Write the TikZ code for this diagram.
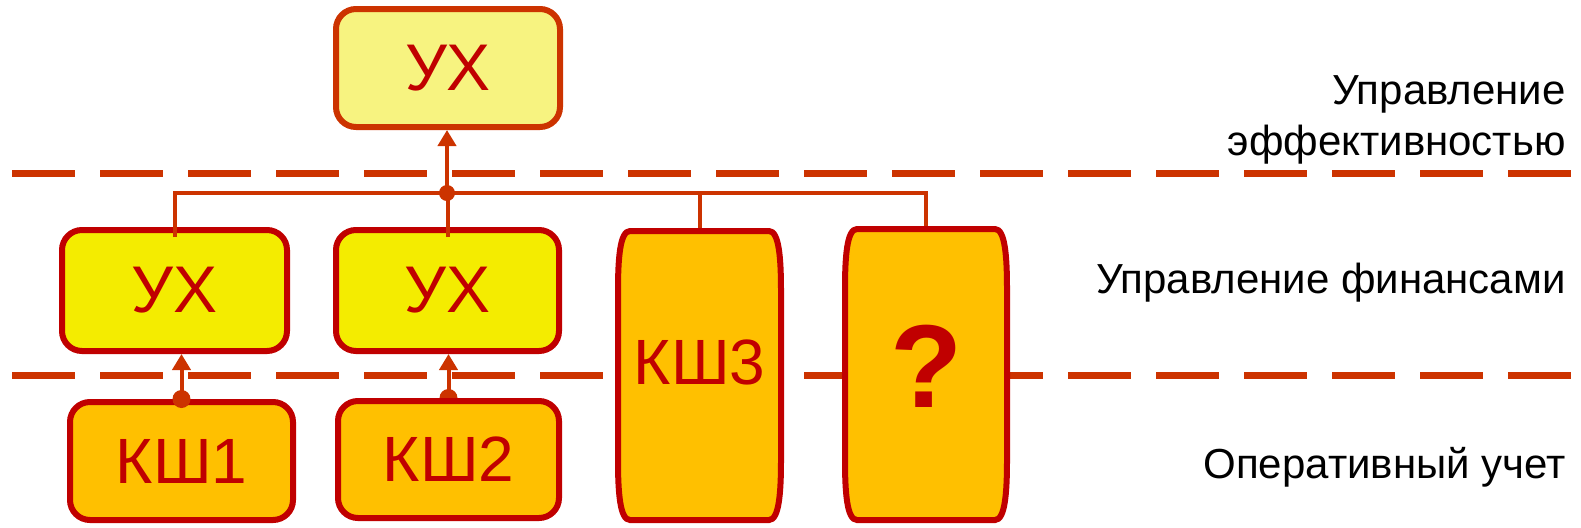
\documentclass[tikz,border=0pt]{standalone}
\usepackage{fontspec}
\setmainfont{Liberation Sans}
\usetikzlibrary{arrows.meta,calc}
\pgfdeclarelayer{bg}
\pgfsetlayers{bg,main}
\definecolor{lineor}{RGB}{204,51,0}
\definecolor{bordred}{RGB}{192,0,0}
\definecolor{txtred}{RGB}{192,0,0}
\definecolor{topfill}{RGB}{247,243,128}
\definecolor{midfill}{RGB}{244,236,0}
\definecolor{botfill}{RGB}{255,192,0}
\newcommand{\barrelpath}[3]{%
  \begin{scope}[shift={(#1.north west)}]
    \path[barrelbox] (15,3) -- ({#2-15},3)
      .. controls ({#2-5},3) and ({#2-3},30) .. ({#2-3},63)
      -- ({#2-3},{#3-63})
      .. controls ({#2-3},{#3-30}) and ({#2-5},{#3-3}) .. ({#2-15},{#3-3})
      -- (15,{#3-3})
      .. controls (5,{#3-3}) and (3,{#3-30}) .. (3,{#3-63})
      -- (3,63)
      .. controls (3,30) and (5,3) .. (15,3) -- cycle;
  \end{scope}}
\begin{document}
\begin{tikzpicture}[x=0.5pt,y=-0.5pt,
  sepline/.style={draw=lineor, line width=3.5pt, dash pattern=on 31.5pt off 12.5pt},
  box/.style={rounded corners=10pt, line width=3pt, draw=bordred, inner sep=0pt,
    text=txtred, font=\fontsize{33pt}{36pt}\selectfont},
  topbox/.style={box, draw=lineor, fill=topfill},
  midbox/.style={box, fill=midfill},
  botbox/.style={box, fill=botfill, font=\fontsize{32pt}{36pt}\selectfont},
  frame/.style={draw=none, inner sep=0pt, outer sep=0pt},
  barrelbox/.style={draw=bordred, fill=botfill, line width=3pt},
  lbl/.style={text=txtred, inner sep=0pt},
  lab/.style={text=black, inner sep=0pt, font=\fontsize{21pt}{25.5pt}\selectfont},
  conn/.style={draw=lineor, line width=2pt},
  arr/.style={conn, -{Triangle[width=9pt,length=8pt]}}
]
\useasboundingbox (0,0) rectangle (1581,527);

% separators
\coordinate (s1a) at (12,173);
\coordinate (s1b) at (1571,173);
\coordinate (s2a) at (12,375);
\coordinate (s2b) at (1571,375);
\begin{pgfonlayer}{bg}
\draw[sepline] (s1a) -- (s1b);
\draw[sepline] (s2a) -- (s2b);
\end{pgfonlayer}

% boxes
\node[topbox, minimum width=112pt, minimum height=59pt] (top) at (448,68) {УХ};
\node[midbox, minimum width=112.5pt, minimum height=60.5pt] (m1) at (174.5,290.5) {УХ};
\node[midbox, minimum width=111.5pt, minimum height=60.5pt] (m2) at (447.5,290.5) {УХ};
\node[botbox, minimum width=111.5pt, minimum height=59pt] (b1) at (181.5,461) {КШ1};
\node[botbox, minimum width=110.5pt, minimum height=58.5pt] (b2) at (448.5,459.5) {КШ2};

\node[frame, minimum width=84.5pt, minimum height=147.5pt] (k3) at (699.5,375.5) {};
\barrelpath{k3}{169}{295}
\node[lbl, font=\fontsize{32pt}{36pt}\selectfont] (k3t) at ($(k3)+(0,-13)$) {КШ3};

\node[frame, minimum width=84pt, minimum height=148.5pt] (q) at (926,374.5) {};
\barrelpath{q}{168}{297}
\node[lbl, font=\bfseries\fontsize{59pt}{64pt}\selectfont] (qt) at ($(q)+(1,-8)$) {?};

% labels
\node[lab, anchor=north east, align=right] (l1) at (1566,75) {Управление\\эффективностью};
\node[lab, anchor=base east] (l2) at (1566,293) {Управление финансами};
\node[lab, anchor=base east] (l3) at (1566,478) {Оперативный учет};

% connectors
\coordinate (j) at (447,193);
\draw[conn] ($(m1.north)+(0,10)$) |- (j) -| (q.north);
\draw[conn] ($(m2.north)+(0,10)$) -- (m2.north |- j);
\draw[conn] (k3.north) -- (k3.north |- j);
\draw[arr] (j) -- (j |- top.south);
\fill[lineor] (j) circle (4pt);

\draw[arr] (b1.north) -- (b1.north |- m1.south);
\fill[lineor] (b1.north) circle (4.5pt);
\draw[arr] (b2.north) -- (b2.north |- m2.south);
\begin{pgfonlayer}{bg}
\fill[lineor] (b2.north) circle (4.5pt);
\end{pgfonlayer}
\end{tikzpicture}
\end{document}
